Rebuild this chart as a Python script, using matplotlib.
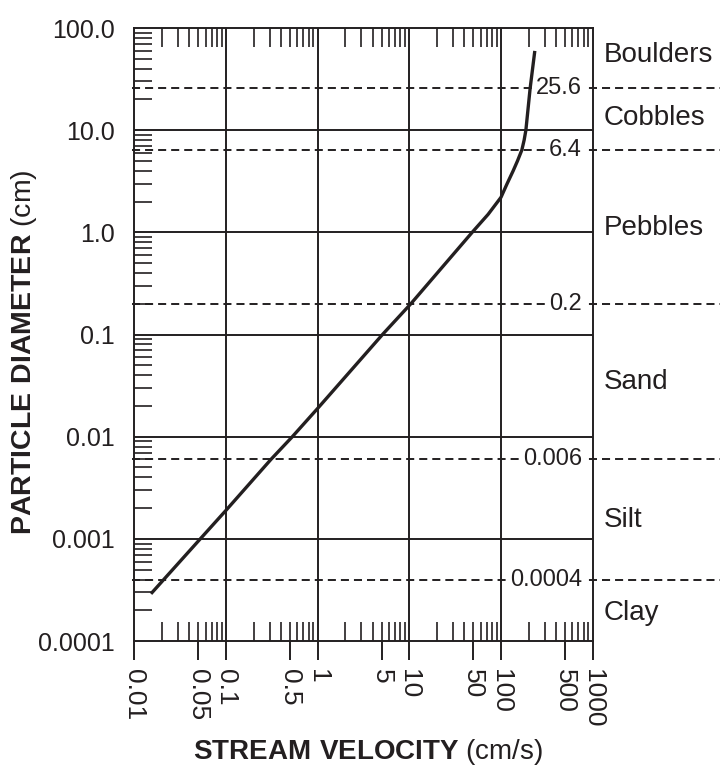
import matplotlib
matplotlib.use("Agg")
import matplotlib.pyplot as plt
from matplotlib.ticker import FixedLocator, LogLocator, NullFormatter

plt.rcParams['font.family'] = ['Liberation Sans', 'DejaVu Sans']
plt.rcParams['mathtext.fontset'] = 'custom'
plt.rcParams['mathtext.rm'] = 'Liberation Sans'
plt.rcParams['mathtext.bf'] = 'Liberation Sans:bold'
plt.rcParams['lines.scale_dashes'] = False

INK = '#231f20'

# curve
velocity = [0.0152, 0.0525, 0.1, 0.31, 0.53, 1.0, 5.1, 10.4, 48.5, 72.4, 100,
            116.8, 135.8, 151.4, 169, 179, 187, 208, 234]
diameter = [0.00029, 0.001, 0.0019, 0.006, 0.01, 0.0189, 0.1, 0.2, 1.0, 1.5, 2.2,
            3.0, 4.0, 5.0, 6.4, 8.0, 10, 25.6, 59.7]

# class boundaries and names
bounds = [25.6, 6.4, 0.2, 0.006, 0.0004]
bound_labels = ['25.6', '6.4', '0.2', '0.006', '0.0004']
classes = ['Boulders', 'Cobbles', 'Pebbles', 'Sand', 'Silt', 'Clay']
class_y = [54, 13.1, 1.1, 0.034, 0.00153, 0.00019]

x_ticks = [0.01, 0.05, 0.1, 0.5, 1, 5, 10, 50, 100, 500, 1000]
x_ticklabels = ['0.01', '0.05', '0.1', '0.5', '1', '5', '10', '50', '100', '500', '1000']
y_ticks = [0.0001, 0.001, 0.01, 0.1, 1, 10, 100]
y_ticklabels = ['0.0001', '0.001', '0.01', '0.1', '1.0', '10.0', '100.0']

fig = plt.figure(figsize=(7.2, 7.74), dpi=100)
ax = fig.add_axes([0.1865, 0.1718, 0.6366, 0.792])
ax.set_xscale('log')
ax.set_yscale('log')
ax.set_xlim(0.01, 1000)
ax.set_ylim(0.0001, 100)

# decade grid
for v in [0.1, 1, 10, 100]:
    ax.axvline(v, color=INK, lw=1.4, zorder=1)
for v in [0.001, 0.01, 0.1, 1, 10]:
    ax.axhline(v, color=INK, lw=1.4, zorder=1)

# dashed boundaries running off to the right edge
trans = ax.get_yaxis_transform()
for b, lab in zip(bounds, bound_labels):
    ax.plot([-0.006, 1.3], [b, b], transform=trans, color=INK, lw=1.4,
            dashes=[5.8, 3.6], clip_on=False, zorder=2)
    ax.text(0.977, b, lab, transform=trans, ha='right', va='center',
            fontsize=17, color=INK, zorder=3,
            bbox=dict(facecolor='white', edgecolor='none', pad=1.5))

for name, yv in zip(classes, class_y):
    ax.text(1.025, yv, name, transform=trans, ha='left', va='center',
            fontsize=20, color=INK)

ax.plot(velocity, diameter, color=INK, lw=2.4, solid_capstyle='butt',
        solid_joinstyle='round', zorder=5)

# ticks
ax.xaxis.set_major_locator(FixedLocator(x_ticks))
ax.set_xticklabels(x_ticklabels, rotation=-90, fontsize=19, color=INK)
ax.xaxis.set_minor_locator(LogLocator(base=10, subs=range(2, 10)))
ax.xaxis.set_minor_formatter(NullFormatter())
ax.xaxis.remove_overlapping_locs = False
ax.tick_params(axis='x', which='major', direction='out', length=14, width=1.4,
               bottom=True, top=False, pad=6, color=INK)
ax.tick_params(axis='x', which='minor', direction='in', length=14, width=1.2,
               bottom=True, top=True, color=INK)

ax.yaxis.set_major_locator(FixedLocator(y_ticks))
ax.set_yticklabels(y_ticklabels, fontsize=18, color=INK)
ax.yaxis.set_minor_locator(LogLocator(base=10, subs=range(2, 10)))
ax.yaxis.set_minor_formatter(NullFormatter())
ax.tick_params(axis='y', which='major', length=0, pad=14, left=True, right=False)
ax.tick_params(axis='y', which='minor', direction='in', length=13, width=1.2,
               left=True, right=False, color=INK)

for s in ax.spines.values():
    s.set_color(INK)
    s.set_linewidth(1.4)

fig.text(0.034, 0.545, r'$\bf{PARTICLE\ DIAMETER}$ (cm)', rotation=90,
         ha='center', va='center', fontsize=20.5, color=INK)
fig.text(0.511, 0.028, r'$\bf{STREAM\ VELOCITY}$ (cm/s)',
         ha='center', va='center', fontsize=20, color=INK)

fig.savefig('out.png', dpi=100)
